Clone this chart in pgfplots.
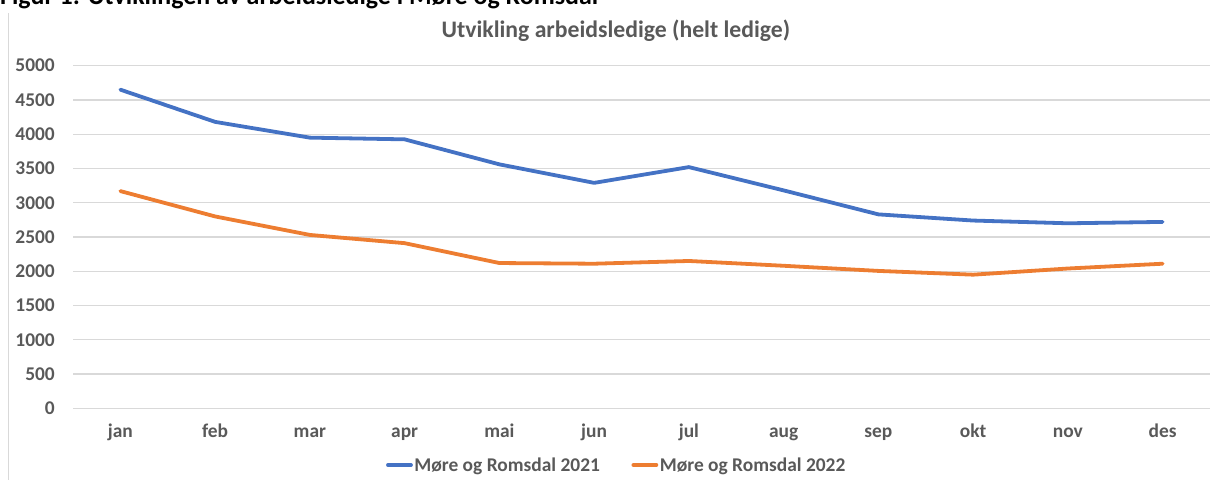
\documentclass[border=0pt]{standalone}
\usepackage{fontspec}
\setmainfont{Carlito}
\usepackage{pgfplots}
\pgfplotsset{compat=1.18}
\definecolor{blueline}{HTML}{4472C4}
\definecolor{orangeline}{HTML}{ED7D31}
\definecolor{gridc}{HTML}{D9D9D9}
\definecolor{txt}{HTML}{595959}
\newcommand{\lblfont}{\fontsize{19.5}{19.5}\selectfont\bfseries}
\begin{document}
\begin{tikzpicture}[x=1bp,y=1bp]
\path[use as bounding box, clip] (0,0) rectangle (1211,480);
\node[anchor=base west, inner sep=0, font=\fontsize{26}{26}\selectfont\bfseries] at (0,475) {Figur 1: Utviklingen av arbeidsledige i Møre og Romsdal};
\draw[gridc, line width=1bp] (8,0) -- (8,466.5);
\begin{axis}[
  at={(73bp,71.7bp)}, anchor=south west,
  scale only axis, width=1137bp, height=342.6bp,
  xmin=-0.5, xmax=11.5, ymin=0, ymax=5000,
  xtick={0,...,11},
  xticklabels={jan,feb,mar,apr,mai,jun,jul,aug,sep,okt,nov,des},
  ytick={0,500,...,5000},
  axis line style={draw=none},
  major tick length=0pt,
  ymajorgrids,
  grid style={gridc, line width=1.3bp},
  /pgf/number format/assume math mode=true,
  /pgf/number format/1000 sep={},
  tick label style={font=\lblfont, text=txt},
  yticklabel style={anchor=east, inner sep=0pt, xshift=-18bp},
  xticklabel style={anchor=base, inner sep=0pt, yshift=-29.7bp},
  title={Utvikling arbeidsledige (helt ledige)},
  title style={font=\fontsize{23.8}{23.8}\selectfont\bfseries, text=txt, at={(0.4775,1)}, anchor=base, yshift=22.7bp, inner sep=0pt},
  legend columns=2,
  legend style={draw=none, fill=none, font=\lblfont, text=txt, at={(0.478,-0.1655)}, anchor=center,
    /tikz/every even column/.append style={column sep=30bp},
    inner sep=0pt, nodes={inner sep=1.5bp}},
  legend image code/.code={\draw[#1, line cap=round] (0bp,0bp) -- (23bp,0bp);},
  every axis plot/.append style={line width=3.8bp, line cap=round, line join=round, mark=none},
]
\addplot[blueline] coordinates {
(0,4650) (1,4180) (2,3950) (3,3925) (4,3560) (5,3290) (6,3520) (7,3180) (8,2830) (9,2740) (10,2700) (11,2720)};
\addlegendentry{Møre og Romsdal 2021}
\addplot[orangeline] coordinates {
(0,3170) (1,2800) (2,2530) (3,2410) (4,2120) (5,2110) (6,2150) (7,2080) (8,2005) (9,1950) (10,2040) (11,2110)};
\addlegendentry{Møre og Romsdal 2022}
\end{axis}
\end{tikzpicture}
\end{document}
